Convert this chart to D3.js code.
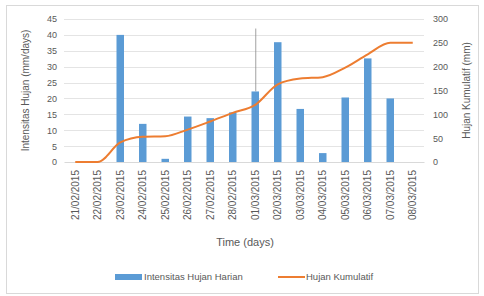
<!DOCTYPE html>
<html lang="en">
<head>
    <meta charset="UTF-8">
    <script src="https://cdn.jsdelivr.net/npm/d3@7/dist/d3.min.js"></script>
    <title>Intensitas Hujan</title>
    <style>
        body { margin: 0; background: #fff; }
        text { font-family: "Liberation Sans", Arial, sans-serif; fill: #595959; }
    </style>
</head>
<body>
    <svg id="chart" width="484" height="296"></svg>

    <script>
        // data
        const dates = ['21/02/2015', '22/02/2015', '23/02/2015', '24/02/2015', '25/02/2015', '26/02/2015',
                       '27/02/2015', '28/02/2015', '01/03/2015', '02/03/2015', '03/03/2015', '04/03/2015',
                       '05/03/2015', '06/03/2015', '07/03/2015', '08/03/2015'];
        const harian = [0, 0, 40, 12, 1, 14.3, 13.8, 15.6, 22.2, 37.7, 16.7, 2.8, 20.3, 32.6, 20, 0];
        const kumulatif = [0, 0, 41, 53, 54, 68, 85, 103, 120, 163, 175, 178, 198, 226, 250, 250];
        // the thin vertical line above the 01/03 bar
        const markDate = '01/03/2015';
        const markTop = 42;
        const leftTicks = [0, 5, 10, 15, 20, 25, 30, 35, 40, 45];
        const rightTicks = [0, 50, 100, 150, 200, 250, 300];

        const blue = '#5b9bd5', orange = '#ed7d31';
        const m = { left: 64, right: 424, top: 19, bottom: 162 };

        const svg = d3.select('#chart');

        // chart frame
        svg.append('rect')
            .attr('x', 6.5).attr('y', 5.5)
            .attr('width', 472).attr('height', 288)
            .attr('fill', '#fff').attr('stroke', '#d9d9d9');

        const x = d3.scaleBand().domain(dates).range([m.left, m.right]);
        const yL = d3.scaleLinear().domain([0, 45]).range([m.bottom, m.top]);
        const yR = d3.scaleLinear().domain([0, 300]).range([m.bottom, m.top]);

        // gridlines
        svg.append('g')
            .selectAll('line')
            .data(leftTicks.slice(1))
            .enter().append('line')
            .attr('x1', m.left).attr('x2', m.right)
            .attr('y1', d => Math.round(yL(d)) + 0.5)
            .attr('y2', d => Math.round(yL(d)) + 0.5)
            .attr('stroke', '#e4e4e4');

        // left axis
        const axL = svg.append('g')
            .attr('transform', 'translate(' + m.left + ',0)')
            .call(d3.axisLeft(yL).tickValues(leftTicks).tickSize(0).tickPadding(7));
        axL.select('.domain').remove();
        axL.selectAll('text').style('font-size', '9px').style('font-family', null);

        // right axis
        const axR = svg.append('g')
            .attr('transform', 'translate(' + m.right + ',0)')
            .call(d3.axisRight(yR).tickValues(rightTicks).tickSize(0).tickPadding(9));
        axR.select('.domain').remove();
        axR.selectAll('text').style('font-size', '9px').style('font-family', null);

        // bottom axis
        const axB = svg.append('g')
            .attr('transform', 'translate(0,' + m.bottom + ')')
            .call(d3.axisBottom(x).tickSize(0).tickPadding(0));
        axB.select('.domain').attr('stroke', '#d9d9d9');
        axB.selectAll('text')
            .style('font-size', '10px').style('font-family', null)
            .attr('text-anchor', 'end')
            .attr('dy', '0.35em')
            .attr('transform', 'translate(0,8) rotate(-90)');

        // thin line above the 01/03 bar
        const i0 = dates.indexOf(markDate);
        svg.append('line')
            .attr('x1', x(markDate) + x.bandwidth() / 2 + 0.5)
            .attr('x2', x(markDate) + x.bandwidth() / 2 + 0.5)
            .attr('y1', yL(markTop))
            .attr('y2', yL(harian[i0]))
            .attr('stroke', '#8a8a8a').attr('stroke-width', 0.8);

        // bars
        const bw = 7.5;
        svg.append('g')
            .selectAll('rect')
            .data(harian)
            .enter().append('rect')
            .attr('x', (d, i) => x(dates[i]) + (x.bandwidth() - bw) / 2)
            .attr('y', d => yL(d))
            .attr('width', bw)
            .attr('height', d => m.bottom - yL(d))
            .attr('fill', blue);

        // cumulative line
        const line = d3.line()
            .x((d, i) => x(dates[i]) + x.bandwidth() / 2)
            .y(d => yR(d))
            .curve(d3.curveMonotoneX);
        svg.append('path')
            .datum(kumulatif)
            .attr('d', line)
            .attr('fill', 'none')
            .attr('stroke', orange)
            .attr('stroke-width', 2);

        // axis titles
        svg.append('text')
            .attr('transform', 'translate(29,' + (m.top + m.bottom) / 2 + ') rotate(-90)')
            .attr('text-anchor', 'middle')
            .style('font-size', '10px')
            .text('Intensitas Hujan (mm/days)');

        svg.append('text')
            .attr('transform', 'translate(470,' + (m.top + m.bottom) / 2 + ') rotate(-90)')
            .attr('text-anchor', 'middle')
            .style('font-size', '10px')
            .text('Hujan Kumulatif (mm)');

        svg.append('text')
            .attr('x', 245).attr('y', 246)
            .attr('text-anchor', 'middle')
            .style('font-size', '11px')
            .text('Time (days)');

        // legend
        const lg = svg.append('g').attr('transform', 'translate(0,277)');
        lg.append('rect')
            .attr('x', 115).attr('y', -3).attr('width', 27).attr('height', 6)
            .attr('fill', blue);
        lg.append('text')
            .attr('x', 144).attr('y', 0).attr('dy', '0.35em')
            .style('font-size', '9.5px')
            .text('Intensitas Hujan Harian');
        lg.append('line')
            .attr('x1', 278).attr('x2', 305).attr('y1', 0).attr('y2', 0)
            .attr('stroke', orange).attr('stroke-width', 2);
        lg.append('text')
            .attr('x', 306).attr('y', 0).attr('dy', '0.35em')
            .style('font-size', '9.5px')
            .text('Hujan Kumulatif');
    </script>
</body>
</html>
